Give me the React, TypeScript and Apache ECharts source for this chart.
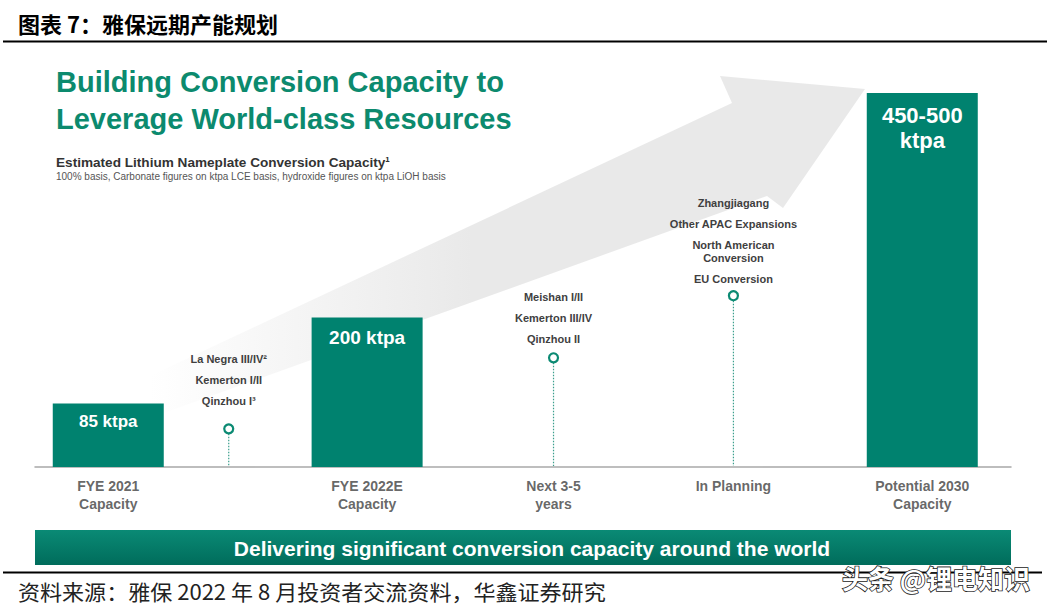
import React, { useEffect, useRef } from 'react';
import * as echarts from 'echarts';

// ---- data ----
const categories = ['FYE 2021\nCapacity', '', 'FYE 2022E\nCapacity', 'Next 3-5\nyears', 'In Planning', 'Potential 2030\nCapacity'];
const categoryPositions = [0, 1.48, 3.18, 5.47, 7.68, 10];
const capacityValues: (number | null)[] = [85, null, 200, null, null, 500];
const capacityLabels = ['85 ktpa', '', '200 ktpa', '', '', '450-500\nktpa'];
const pipelineValues: (number | null)[] = [null, 51, null, 146, 229, null];
const pipelineProjects: string[][] = [
  [],
  ['La Negra III/IV²', 'Kemerton I/II', 'Qinzhou I³'],
  [],
  ['Meishan I/II', 'Kemerton III/IV', 'Qinzhou II'],
  ['Zhangjiagang', 'Other APAC Expansions', 'North American\nConversion', 'EU Conversion'],
  [],
];
const headerTitle = '图表 7：雅保远期产能规划';
const mainTitle = ['Building Conversion Capacity to', 'Leverage World-class Resources'];
const subTitle = 'Estimated Lithium Nameplate Conversion Capacity¹';
const subNote = '100% basis, Carbonate figures on ktpa LCE basis, hydroxide figures on ktpa LiOH basis';
const bannerText = 'Delivering significant conversion capacity around the world';
const sourceText = '资料来源：雅保 2022 年 8 月投资者交流资料，华鑫证券研究';
const watermarkText = '头条 @锂电知识';

const LATIN = "'Liberation Sans', Arial, Helvetica, sans-serif";
const CJK = "'Noto Sans CJK SC', 'Noto Sans', sans-serif";
const TEAL = '#00826f';
const TITLE_GREEN = '#0c8a6e';
const DARK = '#3f3f3f';

export default function App() {
  const ref = useRef<HTMLDivElement>(null);

  useEffect(() => {
    if (!ref.current) return;
    const chart = echarts.init(ref.current, undefined, { renderer: 'svg' });

    const barLabelStyle: Record<number, { fontSize: number; distance: number; lineHeight: number }> = {
      0: { fontSize: 17, distance: 9, lineHeight: 19 },
      2: { fontSize: 19, distance: 10, lineHeight: 21 },
      5: { fontSize: 22, distance: 10, lineHeight: 25 },
    };
    const markerDistance: Record<number, number> = { 1: 15.5, 3: 6.5, 4: 4.5 };

    const barData: any[] = [];
    capacityValues.forEach((v, i) => {
      if (v == null) return;
      const st = barLabelStyle[i];
      barData.push({
        value: [categoryPositions[i], v],
        label: {
          show: true,
          position: 'insideTop',
          distance: st.distance,
          formatter: capacityLabels[i],
          fontSize: st.fontSize,
          lineHeight: st.lineHeight,
          fontWeight: 'bold',
          color: '#ffffff',
          fontFamily: LATIN,
        },
      });
    });

    const pipeData: any[] = [];
    pipelineValues.forEach((v, i) => {
      if (v == null) return;
      const text = pipelineProjects[i]
        .map((it) => it.split('\n').map((l) => `{t|${l}}`).join('\n'))
        .join('\n{s| }\n');
      pipeData.push({
        value: [categoryPositions[i], v],
        label: {
          show: true,
          position: 'top',
          distance: markerDistance[i],
          formatter: text,
          rich: {
            t: { fontSize: 11, fontWeight: 'bold', color: DARK, lineHeight: 13, fontFamily: LATIN, align: 'center' },
            s: { fontSize: 2, lineHeight: 8 },
          },
        },
      });
    });

    const catData = categories.map((c, i) => ({ value: [categoryPositions[i], 0], name: c }));

    const option: any = {
      animation: false,
      backgroundColor: '#ffffff',
      grid: { left: 35, right: 39, top: 18.2, bottom: 143, containLabel: false },
      xAxis: {
        type: 'value',
        min: -0.9,
        max: 11.09,
        axisLine: { show: true, onZero: true, lineStyle: { color: '#a8a8a8', width: 1.5 } },
        axisTick: { show: false },
        axisLabel: { show: false },
        splitLine: { show: false },
      },
      yAxis: {
        type: 'value',
        min: 0,
        max: 600,
        show: false,
        splitLine: { show: false },
      },
      graphic: [
        // decorative background arrow
        {
          type: 'polygon',
          z: -10,
          shape: {
            points: [
              [150, 376],
              [732, 103],
              [720, 76],
              [865, 89],
              [783, 208],
              [767, 196],
              [150, 418],
            ],
          },
          style: {
            fill: new echarts.graphic.LinearGradient(0, 0, 1, 0, [
              { offset: 0, color: 'rgba(233,233,233,0)' },
              { offset: 0.45, color: 'rgba(233,233,233,1)' },
              { offset: 1, color: 'rgba(233,233,233,1)' },
            ]),
          },
        },
        {
          type: 'text',
          z: 100,
          x: 18,
          y: 23,
          style: { text: headerTitle, font: `bold 22px ${CJK}`, fill: '#000', verticalAlign: 'middle' },
        },
        {
          type: 'line',
          z: 100,
          shape: { x1: 3, y1: 41.5, x2: 1047, y2: 41.5 },
          style: { stroke: '#000', lineWidth: 2 },
        },
        {
          type: 'text',
          z: 100,
          x: 56,
          y: 82,
          style: { text: mainTitle[0], font: `bold 29px ${LATIN}`, fill: TITLE_GREEN, verticalAlign: 'middle' },
        },
        {
          type: 'text',
          z: 100,
          x: 56,
          y: 119,
          style: { text: mainTitle[1], font: `bold 29px ${LATIN}`, fill: TITLE_GREEN, verticalAlign: 'middle' },
        },
        {
          type: 'text',
          z: 100,
          x: 56,
          y: 162,
          style: { text: subTitle, font: `bold 13.6px ${LATIN}`, fill: '#333', verticalAlign: 'middle' },
        },
        {
          type: 'text',
          z: 100,
          x: 56,
          y: 176,
          style: { text: subNote, font: `10px ${LATIN}`, fill: '#555', verticalAlign: 'middle' },
        },
        {
          type: 'rect',
          z: 100,
          shape: { x: 35, y: 530, width: 976, height: 35 },
          style: {
            fill: new echarts.graphic.LinearGradient(0, 0, 0, 1, [
              { offset: 0, color: '#0a8a75' },
              { offset: 1, color: '#006c5b' },
            ]),
          },
        },
        {
          type: 'text',
          z: 101,
          x: 532,
          y: 548,
          style: {
            text: bannerText,
            font: `bold 21px ${LATIN}`,
            fill: '#ffffff',
            align: 'center',
            verticalAlign: 'middle',
          },
        },
        {
          type: 'line',
          z: 100,
          shape: { x1: 3, y1: 572.5, x2: 1042, y2: 572.5 },
          style: { stroke: '#000', lineWidth: 2 },
        },
        {
          type: 'text',
          z: 100,
          x: 18,
          y: 591,
          scaleX: 1.05,
          style: { text: sourceText, font: `21px ${CJK}`, fill: '#222', verticalAlign: 'middle' },
        },
        {
          type: 'text',
          z: 102,
          x: 936,
          y: 577,
          style: {
            text: watermarkText,
            font: `bold 26px ${CJK}`,
            fill: '#ffffff',
            stroke: '#222',
            lineWidth: 1.6,
            align: 'center',
            verticalAlign: 'middle',
          },
        },
      ],
      series: [
        {
          type: 'bar',
          name: 'Capacity',
          data: barData,
          barWidth: 111,
          clip: false,
          z: 3,
          itemStyle: { color: TEAL },
        },
        {
          type: 'custom',
          name: 'Pipeline stem',
          clip: false,
          z: 3,
          data: pipeData.map((d) => d.value),
          renderItem: (params: any, api: any) => {
            const x = api.value(0);
            const y = api.value(1);
            const top = api.coord([x, y]);
            const bot = api.coord([x, 0]);
            return {
              type: 'line',
              shape: { x1: top[0], y1: top[1] + 5, x2: bot[0], y2: bot[1] - 1 },
              style: { stroke: '#3a9e8c', lineWidth: 1.2, lineDash: [1.5, 1.5] },
            };
          },
        },
        {
          type: 'scatter',
          name: 'Pipeline',
          data: pipeData,
          symbol: 'circle',
          symbolSize: 9,
          clip: false,
          z: 5,
          itemStyle: { color: '#ffffff', borderColor: '#0b8a73', borderWidth: 2.2, opacity: 1 },
        },
        {
          type: 'scatter',
          name: 'Categories',
          data: catData,
          symbolSize: 0,
          clip: false,
          z: 4,
          silent: true,
          label: {
            show: true,
            position: 'bottom',
            distance: 9.5,
            formatter: (p: any) => p.name,
            fontSize: 14,
            fontWeight: 'bold',
            lineHeight: 18,
            color: DARK,
            fontFamily: LATIN,
            align: 'center',
          },
        },
      ],
    };

    chart.setOption(option);
    return () => chart.dispose();
  }, []);

  return (
    <div
      ref={ref}
      style={{ position: 'fixed', left: 0, top: 0, width: 1050, height: 610, background: '#fff' }}
    />
  );
}
